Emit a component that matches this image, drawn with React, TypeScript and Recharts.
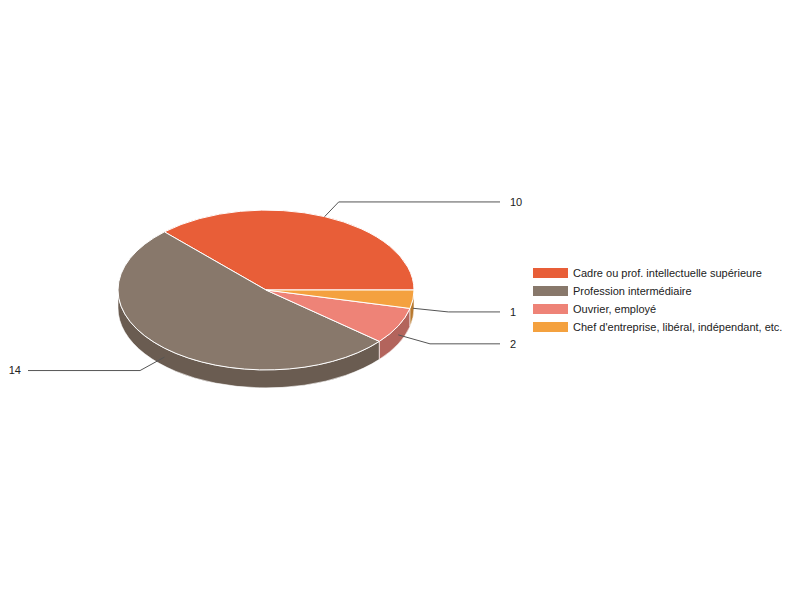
import React from "react";
import { PieChart, Pie, Legend } from "recharts";

const categories = [
  "Cadre ou prof. intellectuelle supérieure",
  "Profession intermédiaire",
  "Ouvrier, employé",
  "Chef d'entreprise, libéral, indépendant, etc.",
];
const counts = [10, 14, 2, 1];

const topColors = ["#E85E38", "#88786B", "#EE8377", "#F4A13F"];
const sideColors = ["#B0462A", "#6A5C51", "#B3645C", "#B8792F"];

const TILT = 0.54;
const DEPTH = 18;
const FONT = "Arial, 'Liberation Sans', sans-serif";

const data = categories.map((name, i) => ({ name, value: counts[i] }));

const RAD = Math.PI / 180;

function pt(cx: number, cy: number, rx: number, ry: number, a: number) {
  return [cx + rx * Math.cos(a * RAD), cy - ry * Math.sin(a * RAD)];
}

function Slice3D(props: any) {
  const { cx, cy, outerRadius, startAngle, endAngle, index } = props;
  const rx = outerRadius;
  const ry = outerRadius * TILT;
  const s = Math.min(startAngle, endAngle);
  const e = Math.max(startAngle, endAngle);
  const [x0, y0] = pt(cx, cy, rx, ry, s);
  const [x1, y1] = pt(cx, cy, rx, ry, e);
  const large = e - s > 180 ? 1 : 0;
  const top = `M${cx},${cy} L${x0},${y0} A${rx},${ry} 0 ${large} 0 ${x1},${y1} Z`;

  // visible wall: part of the arc in the front half (180..360)
  const a0 = Math.max(s, 180);
  const a1 = Math.min(e, 360);
  let side: string | null = null;
  if (a1 > a0) {
    const [sx0, sy0] = pt(cx, cy, rx, ry, a0);
    const [sx1, sy1] = pt(cx, cy, rx, ry, a1);
    side =
      `M${sx0},${sy0} A${rx},${ry} 0 0 0 ${sx1},${sy1} ` +
      `L${sx1},${sy1 + DEPTH} A${rx},${ry} 0 0 1 ${sx0},${sy0 + DEPTH} Z`;
  }
  return (
    <g>
      {side && <path d={side} fill={sideColors[index]} stroke="#fff" strokeWidth={0.6} />}
      <path d={top} fill={topColors[index]} stroke="#fff" strokeWidth={1} />
    </g>
  );
}

function renderLabel(props: any) {
  const { cx, cy, outerRadius, midAngle, value } = props;
  const rx = outerRadius;
  const ry = outerRadius * TILT;
  const front = Math.sin(midAngle * RAD) < 0;
  const down = front ? DEPTH / 2 : 0;
  const elbowDown = front ? DEPTH * 0.6 : 0;
  const [ax, ay] = pt(cx, cy, rx, ry, midAngle);
  const [ex, ey0] = pt(cx, cy, rx * 1.24, ry * 1.2, midAngle);
  const ey = ey0 + elbowDown;
  const right = Math.cos(midAngle * RAD) >= 0;
  const endX = right ? cx + 234 : cx - 238;
  const textX = right ? endX + 10 : endX - 7;
  return (
    <g>
      <polyline
        points={`${ax},${ay + down} ${ex},${ey} ${endX},${ey}`}
        fill="none"
        stroke="#555"
        strokeWidth={1}
      />
      <text
        x={textX}
        y={ey}
        dy="0.35em"
        textAnchor={right ? "start" : "end"}
        fontSize={11}
        fontFamily={FONT}
        fill="#222"
        stroke="none"
      >
        {value}
      </text>
    </g>
  );
}

function LegendBox() {
  return (
    <div style={{ fontFamily: FONT, fontSize: 11, color: "#222" }}>
      {categories.map((c, i) => (
        <div key={c} style={{ display: "flex", alignItems: "center", height: 18 }}>
          <span
            style={{
              display: "inline-block",
              width: 35,
              height: 10,
              background: topColors[i],
              marginRight: 5,
            }}
          />
          <span style={{ whiteSpace: "nowrap" }}>{c}</span>
        </div>
      ))}
    </div>
  );
}

export default function App() {
  return (
    <div style={{ position: "fixed", left: 0, top: 0, width: 800, height: 600, background: "#fff" }}>
      <PieChart width={800} height={600} margin={{ top: 0, right: 0, bottom: 0, left: 0 }}>
        <Pie
          data={data}
          dataKey="value"
          nameKey="name"
          cx={266}
          cy={290}
          outerRadius={148}
          startAngle={0}
          endAngle={360}
          shape={Slice3D}
          label={renderLabel}
          labelLine={false}
          isAnimationActive={false}
        />
        <Legend
          content={() => <LegendBox />}
          wrapperStyle={{ position: "absolute", left: 533, top: 264, width: 260 }}
        />
      </PieChart>
    </div>
  );
}
